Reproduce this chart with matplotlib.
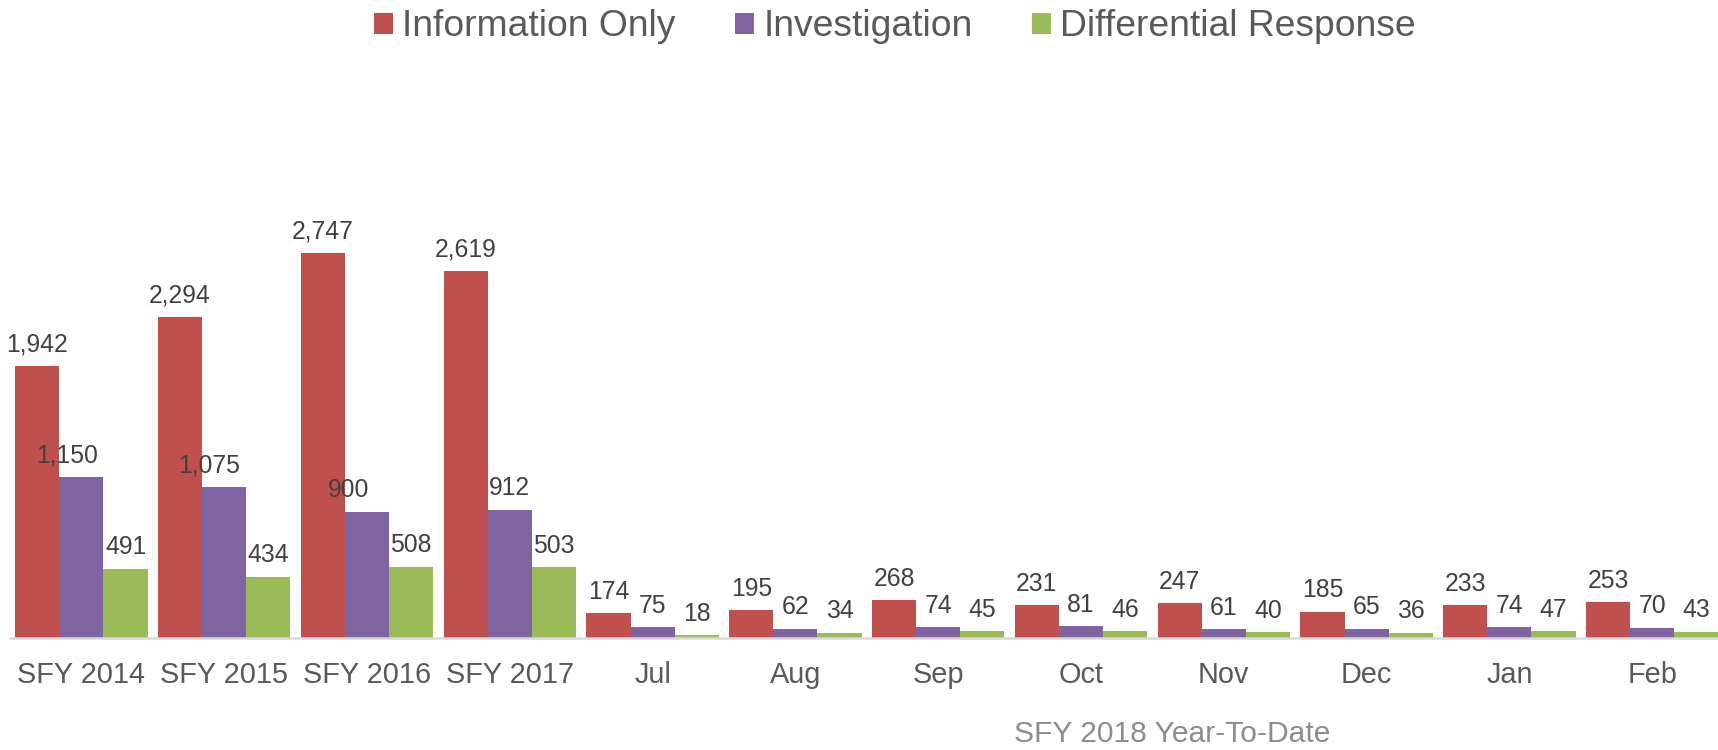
import matplotlib
matplotlib.use("Agg")
import matplotlib.pyplot as plt
import matplotlib.transforms as mtransforms
import numpy as np

plt.rcParams['font.family'] = ['Liberation Sans', 'DejaVu Sans']

categories = ["SFY 2014", "SFY 2015", "SFY 2016", "SFY 2017",
              "Jul", "Aug", "Sep", "Oct", "Nov", "Dec", "Jan", "Feb"]
series_names = ["Information Only", "Investigation", "Differential Response"]
information_only = [1942, 2294, 2747, 2619, 174, 195, 268, 231, 247, 185, 233, 253]
investigation = [1150, 1075, 900, 912, 75, 62, 74, 81, 61, 65, 74, 70]
differential_response = [491, 434, 508, 503, 18, 34, 45, 46, 40, 36, 47, 43]
group_label = "SFY 2018 Year-To-Date"

colors = ["#C0504D", "#8064A2", "#9BBB59"]
series = [information_only, investigation, differential_response]
# manual label nudges (pixels) as in the reference
label_nudge = {(1, 0): -14, (1, 1): -15, (1, 2): -18}

W, H = 1718, 750
fig = plt.figure(figsize=(W / 100, H / 100), dpi=100)
base_px = 637.7
px_per_unit = 0.14
ymax = 4000
ax_h = ymax * px_per_unit
ax = fig.add_axes([0, (H - base_px) / H, 1, ax_h / H])

x = np.arange(len(categories))
bw = 0.309
x_left = -0.570
x_right = x_left + W / 142.8
for si, (vals, col, name) in enumerate(zip(series, colors, series_names)):
    pos = x + (si - 1) * bw
    bars = ax.bar(pos, vals, width=bw, color=col, label=name, linewidth=0)
    for ci, (b, v) in enumerate(zip(bars, vals)):
        dx = label_nudge.get((si, ci), 0) * 0.72
        ax.annotate(f"{v:,}", (b.get_x() + b.get_width() / 2, v),
                    xytext=(dx, 15.5), textcoords="offset points",
                    ha="center", va="center", fontsize=17.8, color="#404040")

ax.set_xlim(x_left, x_right)
ax.set_ylim(0, ymax)
ax.set_xticks(x)
ax.set_xticklabels(categories, fontsize=20.8, color="#595959")
ax.tick_params(axis="x", length=0, pad=17)
ax.set_yticks([])
for s in ["top", "right", "left"]:
    ax.spines[s].set_visible(False)
ax.spines["bottom"].set_color("#D9D9D9")
ax.spines["bottom"].set_linewidth(1.8)
ax.spines["bottom"].set_bounds(-0.5, x_right)

ax.text(x_left + 1172 / 142.8, 1 - 734 / H, group_label,
        transform=mtransforms.blended_transform_factory(ax.transData, fig.transFigure),
        ha="center", va="center", fontsize=21.6, color="#8C8C8C")

fig.legend(loc="center", bbox_to_anchor=(895 / W, 1 - 27 / H), ncol=3,
           frameon=False, fontsize=26.8, handlelength=0.5, handleheight=0.5,
           handletextpad=0.25, columnspacing=1.6, labelcolor="#595959")

fig.savefig("out.png", dpi=100)
